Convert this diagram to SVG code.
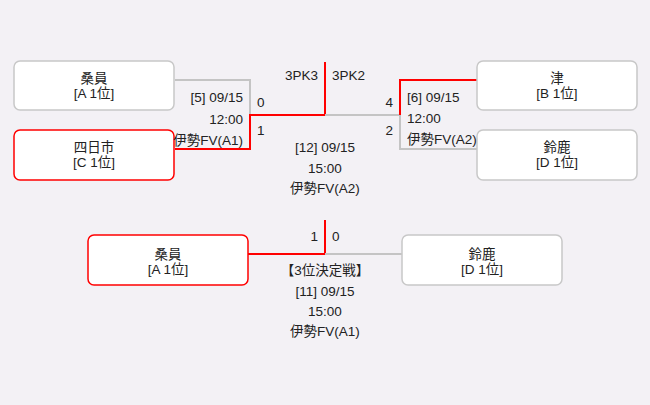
<svg xmlns="http://www.w3.org/2000/svg" width="650" height="405" viewBox="0 0 650 405">
<style>
text{font-family:"Liberation Sans","Noto Sans CJK JP",sans-serif;font-size:13.5px;fill:#222}
.box{fill:#fff;stroke:#c8c8c8;stroke-width:1.5}
.win{stroke:#ff0000}
.g{fill:none;stroke:#c4c4c4;stroke-width:2}
.r{fill:none;stroke:#ff0000;stroke-width:2}
.m{text-anchor:middle}
.e{text-anchor:end}
</style>
<rect width="650" height="405" fill="#f3f1f5"/>
<g id="connectors">
<polyline class="g" points="175,80 250,80 250,115"/>
<polyline class="r" points="175,149 250,149 250,115 325,115"/>
<line class="r" x1="325" y1="62" x2="325" y2="115"/>
<polyline class="g" points="325,115 400,115 400,149 477,149"/>
<polyline class="r" points="477,80 400,80 400,115"/>
<polyline class="r" points="248,254 325,254 325,220"/>
<line class="g" x1="325" y1="254" x2="402" y2="254"/>
</g>
<g id="n1"><rect class="box" x="14" y="61" width="160" height="49" rx="6"/><text class="m" x="94" y="83">桑員</text><text class="m" x="94" y="98">[A 1位]</text></g>
<g id="n2"><rect class="box win" x="14" y="130" width="160" height="50" rx="6"/><text class="m" x="94" y="152">四日市</text><text class="m" x="94" y="167">[C 1位]</text></g>
<g id="n3"><rect class="box" x="477" y="61" width="160" height="49" rx="6"/><text class="m" x="557" y="83">津</text><text class="m" x="557" y="98">[B 1位]</text></g>
<g id="n4"><rect class="box" x="477" y="130" width="160" height="50" rx="6"/><text class="m" x="557" y="152">鈴鹿</text><text class="m" x="557" y="167">[D 1位]</text></g>
<g id="n5"><rect class="box win" x="88" y="235" width="160" height="50" rx="6"/><text class="m" x="168" y="259">桑員</text><text class="m" x="168" y="274">[A 1位]</text></g>
<g id="n6"><rect class="box" x="402" y="235" width="160" height="50" rx="6"/><text class="m" x="482" y="259">鈴鹿</text><text class="m" x="482" y="274">[D 1位]</text></g>
<g id="m5"><text class="e" x="243" y="102">[5] 09/15</text><text class="e" x="243" y="124">12:00</text><text class="e" x="243" y="145">伊勢FV(A1)</text><text x="257" y="107">0</text><text x="257" y="135">1</text></g>
<g id="m6"><text x="407" y="102">[6] 09/15</text><text x="407" y="123">12:00</text><text x="407" y="144">伊勢FV(A2)</text><text class="e" x="393" y="107">4</text><text class="e" x="393" y="135">2</text></g>
<g id="m12"><text class="e" x="318" y="80">3PK3</text><text x="332" y="80">3PK2</text><text class="m" x="325" y="152">[12] 09/15</text><text class="m" x="325" y="173">15:00</text><text class="m" x="325" y="193">伊勢FV(A2)</text></g>
<g id="m11"><text class="e" x="318" y="241">1</text><text x="332" y="241">0</text><text class="m" x="325" y="275">【3位決定戦】</text><text class="m" x="325" y="296">[11] 09/15</text><text class="m" x="325" y="316">15:00</text><text class="m" x="325" y="336">伊勢FV(A1)</text></g>
</svg>
